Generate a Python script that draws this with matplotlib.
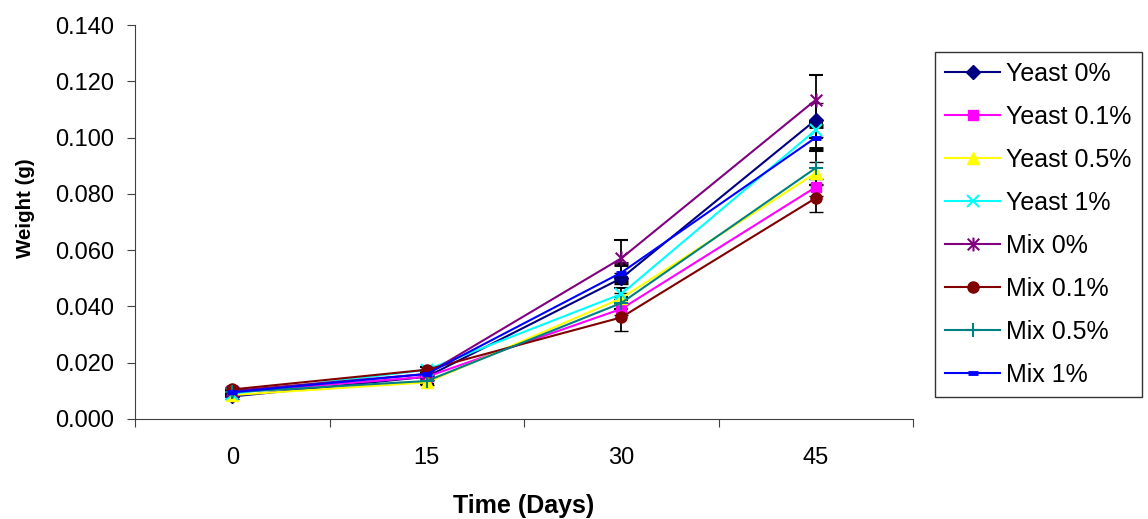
import numpy as np
import matplotlib.pyplot as plt
from matplotlib.path import Path

plt.rcParams['font.family'] = ['Liberation Sans', 'DejaVu Sans']

days = ['0', '15', '30', '45']

yeast_0 = [0.0080, 0.0150, 0.0500, 0.1063]
yeast_01 = [0.0095, 0.0150, 0.0391, 0.0824]
yeast_05 = [0.0085, 0.0130, 0.0429, 0.0874]
yeast_1 = [0.0090, 0.0175, 0.0444, 0.1027]
mix_0 = [0.0100, 0.0160, 0.0571, 0.1134]
mix_01 = [0.0105, 0.0175, 0.0361, 0.0785]
mix_05 = [0.0095, 0.0135, 0.0412, 0.0892]
mix_1 = [0.0095, 0.0160, 0.0520, 0.1000]

err_yeast_0 = [0.0008, 0.0010, 0.0020, 0.0060]
err_yeast_01 = [0.0008, 0.0010, 0.0020, 0.0030]
err_yeast_05 = [0.0008, 0.0010, 0.0020, 0.0040]
err_yeast_1 = [0.0008, 0.0010, 0.0020, 0.0030]
err_mix_0 = [0.0008, 0.0012, 0.0065, 0.0087]
err_mix_01 = [0.0008, 0.0015, 0.0050, 0.0048]
err_mix_05 = [0.0008, 0.0010, 0.0020, 0.0060]
err_mix_1 = [0.0008, 0.0010, 0.0030, 0.0040]

labels = ['Yeast 0%', 'Yeast 0.1%', 'Yeast 0.5%', 'Yeast 1%',
          'Mix 0%', 'Mix 0.1%', 'Mix 0.5%', 'Mix 1%']

# excel style star: X with a vertical bar
star = Path([(-1, -1), (1, 1), (-1, 1), (1, -1), (0, -1.2), (0, 1.2)],
            [Path.MOVETO, Path.LINETO, Path.MOVETO, Path.LINETO, Path.MOVETO, Path.LINETO])

series = [
    (yeast_0, err_yeast_0, '#000080', 'D', 7, 1),
    (yeast_01, err_yeast_01, '#FF00FF', 's', 7, 1),
    (yeast_05, err_yeast_05, '#FFFF00', '^', 8, 1),
    (yeast_1, err_yeast_1, '#00FFFF', 'x', 9, 1.5),
    (mix_0, err_mix_0, '#800080', star, 10, 1.5),
    (mix_01, err_mix_01, '#800000', 'o', 8, 1),
    (mix_05, err_mix_05, '#008080', '+', 10, 1.5),
    (mix_1, err_mix_1, '#0000FF', '_', 7, 3.5),
]

fig = plt.figure(figsize=(11.48, 5.19), dpi=100)
ax = fig.add_axes([0.1176, 0.1927, 0.6777, 0.7591])

x = np.arange(len(days))
for (vals, err, col, mk, ms, mew), lab in zip(series, labels):
    ax.errorbar(x, vals, yerr=err, color=col, marker=mk, markersize=ms,
                markeredgewidth=mew, markerfacecolor=col, markeredgecolor=col,
                lw=1.5, ecolor='black', elinewidth=1.3, capsize=5, capthick=1.3,
                label=lab)

ax.set_xlim(-0.5, 3.5)
ax.set_ylim(0, 0.14)
ax.set_yticks(np.arange(0, 0.141, 0.02))
ax.set_yticklabels([f'{v:.3f}' for v in np.arange(0, 0.141, 0.02)], fontsize=17)
ax.set_xticks(np.arange(-0.5, 3.6, 1))
ax.set_xticklabels([])
ax.set_xticks(x, minor=True)
ax.set_xticklabels(days, minor=True, fontsize=17)
ax.tick_params(axis='x', which='minor', length=0, pad=20)
ax.tick_params(axis='x', which='major', length=6, direction='out', color='#404040')
ax.tick_params(axis='y', length=6, direction='out', color='#404040', pad=9)

for s in ['top', 'right']:
    ax.spines[s].set_visible(False)
ax.spines['left'].set_color('#404040')
ax.spines['bottom'].set_color('#404040')

ax.set_ylabel('Weight (g)', fontsize=14.8, fontweight='bold')
ax.yaxis.set_label_coords(-0.129, 0.535)
ax.set_xlabel('Time (Days)', fontsize=18, fontweight='bold', labelpad=18)

handles, labs = ax.get_legend_handles_labels()
handles = [h[0] for h in handles]
leg = fig.legend(handles, labs, loc='upper left', bbox_to_anchor=(0.8145, 0.8998),
                 frameon=True, fancybox=False, edgecolor='black', fontsize=18,
                 handlelength=2.2, labelspacing=0.76, borderpad=0.4,
                 handletextpad=0.25, borderaxespad=0)
leg.get_frame().set_linewidth(1.0)

fig.savefig('out.png', dpi=100)
